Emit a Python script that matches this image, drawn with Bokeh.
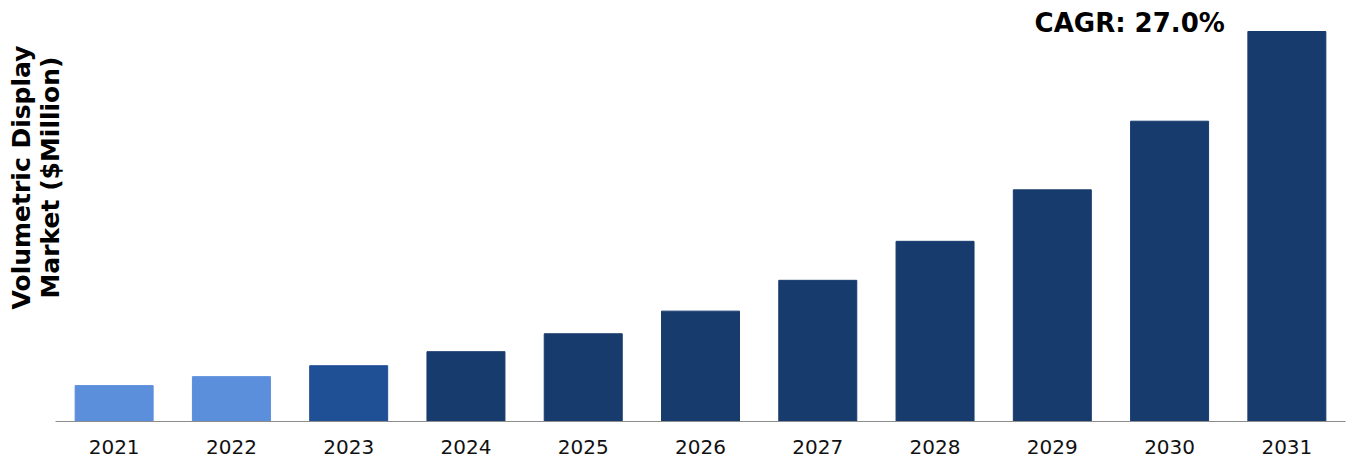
from bokeh.plotting import figure
from bokeh.models import ColumnDataSource, Range1d, Label
from bokeh.embed import file_html
from bokeh.resources import INLINE

years = ["2021", "2022", "2023", "2024", "2025", "2026", "2027", "2028", "2029", "2030", "2031"]
market = [92, 115, 143, 179, 225, 283, 362, 462, 594, 770, 1000]
colors = ["#5b8fdc", "#5b8fdc", "#1f4f95"] + ["#183b6e"] * 8
y_label_lines = ["Volumetric Display", "Market ($Million)"]
cagr_text = "CAGR: 27.0%"

FONT = "DejaVu Sans"

# layout (pixels on the canvas)
W, H = 1352, 459
axis_left_px, axis_right_px = 55, 1345
baseline_px, top_px = 421, 31

n = len(years)
cat_px = (axis_right_px - axis_left_px) / n
x_start = -0.5 - axis_left_px / cat_px
x_end = n - 0.5 + (W - axis_right_px) / cat_px
units_per_px = max(market) / (baseline_px - top_px)
y_start = -(H - baseline_px) * units_per_px
y_end = baseline_px * units_per_px

xs = list(range(n))
src = ColumnDataSource(dict(x=xs, year=years, value=market, color=colors))

p = figure(
    width=W, height=H,
    x_range=Range1d(x_start, x_end),
    y_range=Range1d(y_start, y_end),
    x_axis_location=None, y_axis_location=None,
    output_backend="svg", toolbar_location=None,
    min_border_left=0, min_border_right=0, min_border_top=0, min_border_bottom=0,
)

p.vbar(x="x", top="value", bottom=0, width=0.665, color="color", source=src)
p.segment(x0=[-0.5], y0=[0], x1=[n - 0.5], y1=[0], line_color="#8c8c8c", line_width=1)

p.text(x="x", y=0, text="year", source=src, y_offset=25,
       text_align="center", text_baseline="middle",
       text_font={"value": FONT}, text_font_size="20px", text_color="#111111")

p.xgrid.visible = False
p.ygrid.visible = False
p.outline_line_color = None
p.background_fill_color = "white"
p.border_fill_color = "white"

# y axis title as two rotated lines
for lx, line in zip([21, 50], y_label_lines):
    p.add_layout(Label(x=lx, y=H - 177, x_units="screen", y_units="screen", text=line,
                       angle=1.5707963267948966, text_align="center", text_baseline="middle",
                       text_font=FONT, text_font_style="bold", text_font_size="25px",
                       text_color="black"))

cagr_x = years.index("2030")
p.add_layout(Label(x=cagr_x, y=market[-1], x_offset=-135, y_offset=-6, text=cagr_text,
                   text_align="left", text_baseline="bottom",
                   text_font=FONT, text_font_style="bold", text_font_size="26px",
                   text_color="black"))

open("out.html", "w").write(file_html(p, INLINE))
